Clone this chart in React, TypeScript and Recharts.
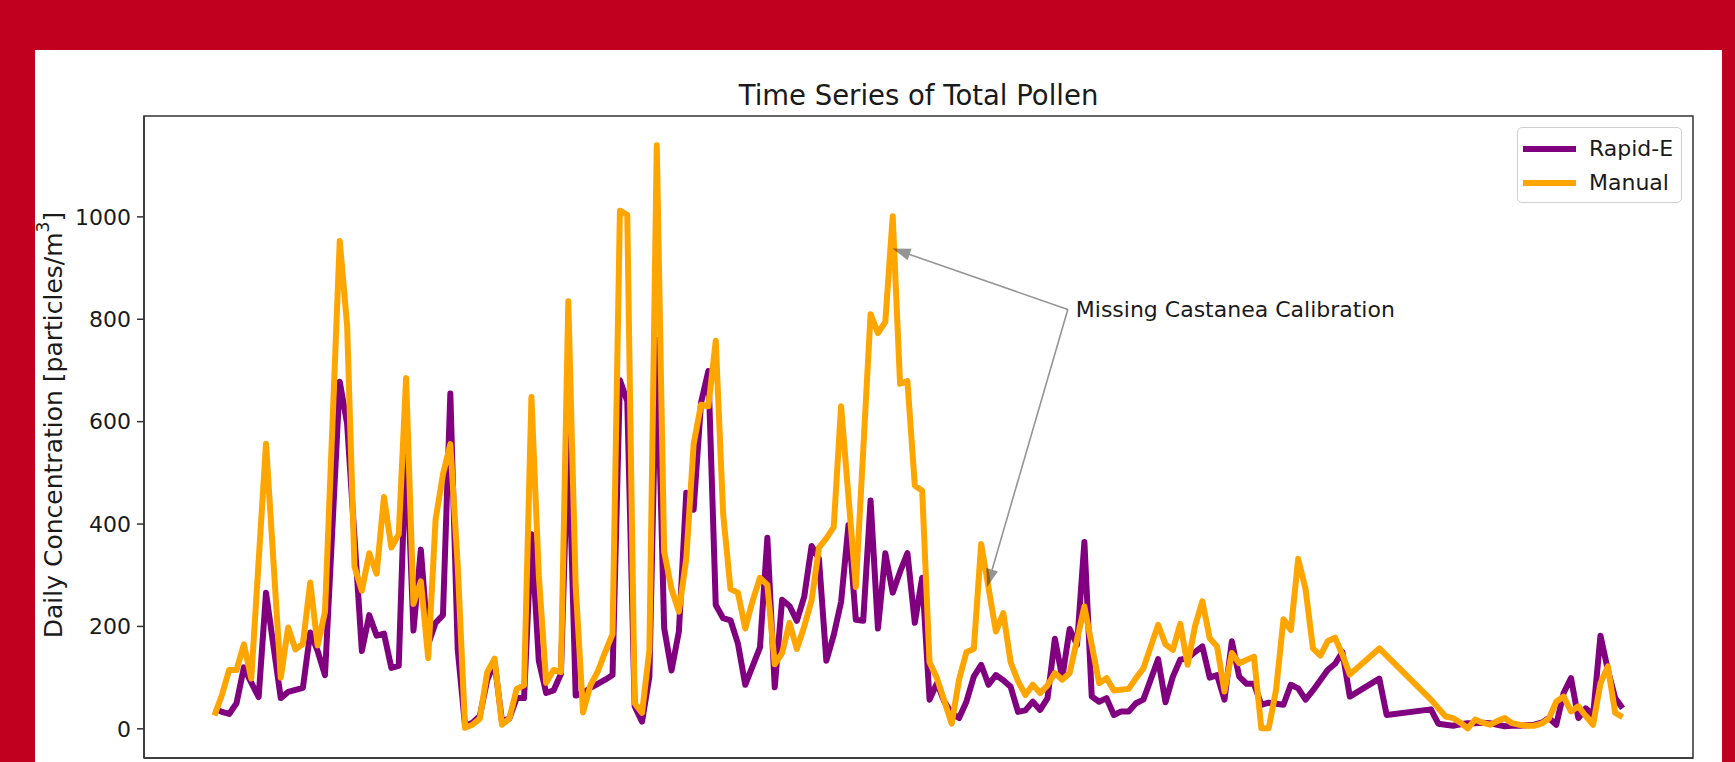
import React from "react";
import {
  LineChart,
  Line,
  XAxis,
  YAxis,
  Legend,
  ReferenceLine,
  ReferenceArea,
} from "recharts";

// day index counted from April 1 (0 = Apr 1, 183 = Oct 1)
const rapidDays = [
  -9, -8, -7, -6, -5, -4, -3, -2, 0, 1, 2, 3, 4, 5, 6, 8, 9, 11, 12, 13, 14, 15,
  16, 17, 18, 19, 20, 21, 22, 23, 24, 25, 26, 27, 28, 29, 30, 31, 32, 33, 34,
  35, 36, 37, 38, 39, 40, 41, 42, 43, 44, 45, 46, 47, 48, 49, 50, 51, 52, 53,
  54, 55, 56, 57, 58, 59, 60, 61, 62, 63, 65, 66, 67, 68, 69, 70, 71, 72, 73,
  74, 75, 76, 77, 78, 79, 80, 81, 82, 83, 84, 85, 86, 87, 88, 89, 90, 91, 92,
  93, 94, 95, 96, 97, 98, 99, 100, 101, 102, 103, 104, 105, 106, 107, 108, 109,
  110, 111, 112, 113, 114, 115, 116, 117, 119, 120, 121, 122, 123, 124, 125,
  126, 127, 128, 129, 130, 131, 132, 133, 134, 135, 136, 137, 138, 139, 140,
  141, 142, 143, 144, 145, 149, 150, 156, 157, 158, 159, 160, 161, 162, 163,
  164, 165, 166, 167, 168, 169, 170, 171, 172, 173, 174, 175, 176, 177, 178,
  179, 180, 181, 182,
];
const rapidValues = [
  40, 33, 29, 50, 120, 90, 62, 266, 60, 72, 76, 80, 188, 152, 105, 678, 596,
  152, 222, 182, 186, 119, 123, 560, 192, 350, 165, 207, 222, 655, 155, 5, 12,
  25, 95, 130, 15, 20, 60, 60, 380, 133, 70, 75, 107, 580, 65, 70, 80, 88, 96,
  105, 681, 640, 44, 14, 102, 760, 197, 114, 190, 461, 428, 637, 699, 242, 216,
  212, 167, 86, 159, 373, 81, 252, 240, 211, 258, 357, 332, 133, 183, 248, 398,
  213, 211, 446, 196, 343, 266, 307, 343, 207, 295, 57, 89, 53, 30, 21, 53, 102,
  125, 86, 105, 95, 82, 33, 36, 53, 37, 60, 176, 100, 195, 164, 365, 63, 53, 60,
  27, 34, 34, 50, 57, 136, 52, 102, 135, 138, 150, 161, 100, 105, 57, 171, 102,
  88, 88, 47, 51, 49, 47, 86, 79, 57, 75, 95, 115, 127, 150, 63, 98, 27, 38, 10,
  8, 6, 9, 11, 11, 12, 11, 8, 5, 6, 6, 7, 8, 12, 21, 8, 70, 99, 21, 40, 27, 182,
  115, 60, 40,
];

const manualDays = [
  -9, -8, -7, -6, -5, -4, -2, 0, 1, 2, 3, 4, 5, 6, 8, 9, 10, 11, 12, 13, 14, 15,
  16, 17, 18, 19, 20, 21, 22, 23, 24, 25, 26, 27, 28, 29, 30, 31, 32, 33, 34,
  35, 36, 37, 38, 39, 40, 41, 42, 43, 44, 45, 46, 47, 48, 49, 50, 51, 52, 53,
  54, 55, 56, 57, 58, 59, 60, 61, 62, 63, 64, 65, 66, 67, 68, 69, 70, 71, 72,
  73, 74, 75, 76, 78, 80, 81, 82, 83, 84, 85, 86, 87, 88, 89, 91, 92, 93, 94,
  95, 97, 98, 99, 100, 101, 102, 103, 104, 105, 106, 107, 109, 111, 112, 113,
  115, 116, 117, 119, 120, 121, 122, 123, 124, 125, 126, 127, 128, 129, 130,
  132, 133, 134, 135, 136, 137, 138, 139, 140, 141, 142, 143, 144, 145, 149,
  156, 158, 159, 160, 161, 162, 163, 164, 165, 166, 167, 168, 169, 170, 171,
  172, 173, 174, 175, 176, 177, 178, 179, 180, 181, 182,
];
const manualValues = [
  26, 65, 115, 115, 165, 98, 557, 100, 198, 155, 166, 286, 163, 229, 953, 788,
  317, 270, 343, 303, 453, 354, 380, 685, 244, 288, 138, 409, 497, 556, 320, 2,
  8, 20, 110, 137, 8, 20, 78, 85, 648, 300, 90, 115, 111, 835, 280, 32, 85, 112,
  150, 185, 1012, 1004, 50, 31, 154, 1140, 346, 273, 229, 332, 556, 633, 630,
  758, 420, 273, 266, 196, 250, 295, 281, 126, 148, 207, 156, 200, 251, 354,
  372, 394, 630, 277, 810, 773, 795, 1001, 674, 679, 475, 465, 130, 99, 10, 96,
  150, 156, 361, 190, 226, 130, 93, 66, 86, 70, 85, 109, 96, 109, 239, 89, 99,
  75, 78, 99, 118, 203, 165, 154, 205, 125, 200, 249, 177, 161, 73, 148, 128,
  141, 1, 1, 76, 214, 193, 332, 273, 157, 143, 171, 178, 145, 106, 157, 57, 24,
  21, 12, 1, 18, 12, 8, 15, 21, 11, 8, 6, 6, 10, 20, 53, 63, 34, 44, 25, 8, 89,
  122, 31, 23,
];

const seriesNames = ["Rapid-E", "Manual"];
const monthTicks = [0, 30, 61, 91, 122, 153, 183]; // Apr 1 .. Oct 1
const yTicks = [0, 200, 400, 600, 800, 1000];
const xDomain = [-18.55, 191.55];
const yDomain = [-57, 1197];

// annotation: text anchor and the two arrow tips (data coordinates)
const noteText = "Missing Castanea Calibration";
const noteFrom = { x: 106.75, y: 819 };
const noteTips = [
  { x: 82.99, y: 938 },
  { x: 95.8, y: 277 },
];

const rapidData = rapidDays.map((d, i) => ({ d, v: rapidValues[i] }));
const manualData = manualDays.map((d, i) => ({ d, v: manualValues[i] }));

const FONT = "DejaVu Sans";
const TEXT = "#1a1a1a";

const Arrow = (props: any) => {
  const { x1, y1, x2, y2, withText } = props;
  const dx = x2 - x1;
  const dy = y2 - y1;
  const len = Math.hypot(dx, dy) || 1;
  const ux = dx / len;
  const uy = dy / len;
  const hl = 18;
  const hw = 6;
  const bx = x2 - ux * hl;
  const by = y2 - uy * hl;
  return (
    <g>
      <line
        x1={x1}
        y1={y1}
        x2={bx}
        y2={by}
        stroke="#000"
        strokeOpacity={0.42}
        strokeWidth={1.6}
      />
      <polygon
        points={`${x2},${y2} ${bx - uy * hw},${by + ux * hw} ${bx + uy * hw},${by - ux * hw}`}
        fill="#000"
        fillOpacity={0.42}
      />
      {withText && (
        <text
          x={x1 + 8}
          y={y1}
          dominantBaseline="central"
          fontSize={22}
          fontFamily={FONT}
          fill={TEXT}
        >
          {noteText}
        </text>
      )}
    </g>
  );
};

const YLabel = (props: any) => {
  const vb = props.viewBox || {};
  const cx = vb.x + vb.width - 91;
  const cy = vb.y + vb.height / 2 - 12;
  return (
    <text
      x={cx}
      y={cy}
      transform={`rotate(-90 ${cx} ${cy})`}
      textAnchor="middle"
      dominantBaseline="central"
      fontSize={25}
      fontFamily={FONT}
      fill={TEXT}
    >
      Daily Concentration [particles/m
      <tspan dy={-10} fontSize={17}>
        3
      </tspan>
      <tspan dy={10}>]</tspan>
    </text>
  );
};

const LegendBox = (props: any) => {
  const items = [...(props.payload || [])].sort(
    (a: any, b: any) => seriesNames.indexOf(a.value) - seriesNames.indexOf(b.value)
  );
  return (
    <div
      style={{
        width: 165,
        height: 76,
        boxSizing: "border-box",
        border: "1.5px solid #d0d0d0",
        borderRadius: 5,
        background: "rgba(255,255,255,0.8)",
        fontFamily: FONT,
        fontSize: 22,
        color: TEXT,
        paddingTop: 4,
      }}
    >
      {items.map((it: any) => (
        <div
          key={it.value}
          style={{ display: "flex", alignItems: "center", height: 34 }}
        >
          <div
            style={{
              marginLeft: 5,
              width: 53,
              height: 6,
              background: it.color,
            }}
          />
          <span style={{ marginLeft: 13, lineHeight: "22px" }}>{it.value}</span>
        </div>
      ))}
    </div>
  );
};

export default function App() {
  return (
    <div
      style={{
        position: "fixed",
        left: 0,
        top: 0,
        width: 1735,
        height: 762,
        background: "#c0001e",
        overflow: "hidden",
        fontFamily: FONT,
      }}
    >
      <div
        style={{
          position: "absolute",
          left: 35,
          top: 50,
          width: 1687,
          height: 712,
          background: "#ffffff",
        }}
      />
      <div style={{ position: "absolute", left: 0, top: 0 }}>
        <LineChart
          width={1735}
          height={800}
          margin={{ top: 116, right: 42, bottom: 12, left: 64 }}
        >
          <XAxis
            type="number"
            dataKey="d"
            domain={xDomain}
            ticks={monthTicks}
            interval={0}
            allowDataOverflow
            tick={false}
            tickSize={7}
            height={30}
            stroke="#333"
            tickLine={{ stroke: "#333", strokeWidth: 1.5 }}
            axisLine={{ stroke: "#333", strokeWidth: 1.5 }}
          />
          <YAxis
            type="number"
            domain={yDomain}
            ticks={yTicks}
            interval={0}
            allowDataOverflow
            width={80}
            tickSize={7}
            tickMargin={6}
            stroke="#333"
            tick={{ fontSize: 22, fill: TEXT, fontFamily: FONT }}
            tickLine={{ stroke: "#333", strokeWidth: 1.5 }}
            axisLine={{ stroke: "#333", strokeWidth: 1.5 }}
            label={YLabel}
          />
          <ReferenceArea
            x1={xDomain[0]}
            x2={xDomain[1]}
            y1={yDomain[0]}
            y2={yDomain[1]}
            fill="none"
            stroke="#333"
            strokeWidth={1.5}
            ifOverflow="visible"
          />
          <Line
            data={rapidData}
            dataKey="v"
            name="Rapid-E"
            type="linear"
            stroke="#800080"
            strokeWidth={6}
            strokeLinejoin="round"
            dot={false}
            activeDot={false}
            isAnimationActive={false}
          />
          <Line
            data={manualData}
            dataKey="v"
            name="Manual"
            type="linear"
            stroke="#ffa500"
            strokeWidth={6}
            strokeLinejoin="round"
            dot={false}
            activeDot={false}
            isAnimationActive={false}
          />
          <ReferenceLine
            segment={[noteFrom, noteTips[0]]}
            ifOverflow="visible"
            shape={(p: any) => <Arrow {...p} withText />}
          />
          <ReferenceLine
            segment={[noteFrom, noteTips[1]]}
            ifOverflow="visible"
            shape={(p: any) => <Arrow {...p} />}
          />
          <Legend
            layout="vertical"
            align="center"
            verticalAlign="middle"
            width={165}
            itemSorter={null}
            content={LegendBox}
            wrapperStyle={{ left: 1517, top: 127, width: 165, height: 76 }}
          />
        </LineChart>
      </div>
      <svg
        width={1735}
        height={120}
        style={{ position: "absolute", left: 0, top: 0, pointerEvents: "none" }}
      >
        <text
          x={918.5}
          y={105}
          textAnchor="middle"
          fontSize={27.5}
          fontFamily={FONT}
          fill={TEXT}
        >
          Time Series of Total Pollen
        </text>
      </svg>
    </div>
  );
}
